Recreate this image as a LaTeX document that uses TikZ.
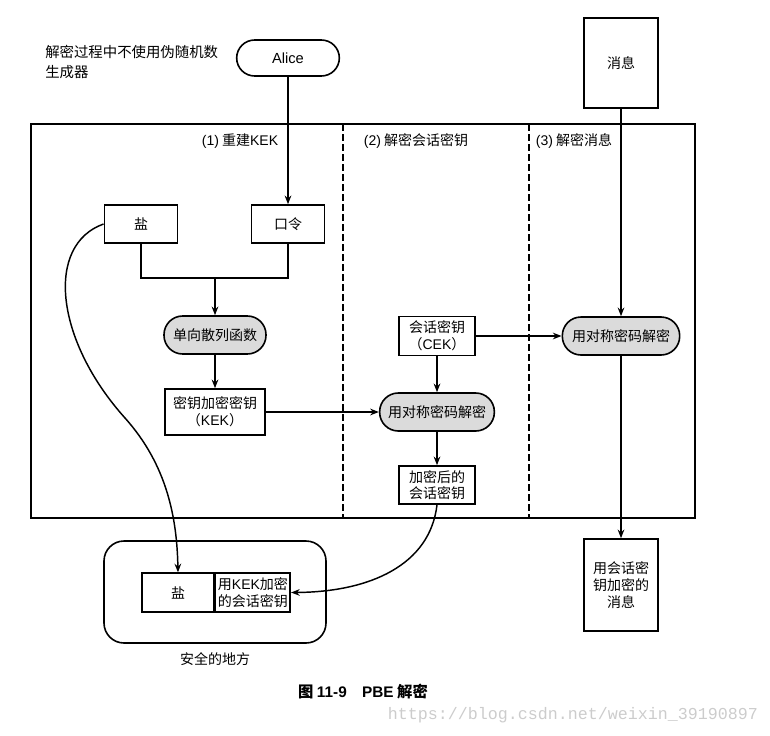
\documentclass[tikz,border=0pt]{standalone}
\usepackage{fontspec}
\setmainfont{Noto Sans CJK SC}
\newfontfamily\lat{Liberation Sans}
\newfontfamily\wmfont{Liberation Mono}
\usetikzlibrary{arrows.meta}
\begin{document}
\begin{tikzpicture}[x=0.75pt,y=-0.75pt,
  every node/.style={font=\fontsize{10.5}{12.5}\selectfont, inner sep=0pt, align=center},
  box/.style={draw, line width=1.2pt, rectangle},
  stadium/.style={draw, line width=1.2pt, rectangle, rounded corners=14pt, fill=gray!28},
  con/.style={line width=1.1pt},
  arr/.style={con, -{Stealth[length=6.5pt,width=5pt]}},
  divider/.style={line width=1.2pt, dash pattern=on 5pt off 2.5pt}]
\useasboundingbox (0,0) rectangle (770,735);

% frame and lanes
\draw[line width=1.2pt] (31,124) rectangle (695,518);
\draw[divider] (343,124) -- (343,518);
\draw[divider] (529,124) -- (529,518);
\node (l1) at (240,141) {{\lat (1)} 重建{\lat KEK}};
\node (l2) at (416,141) {{\lat (2)} 解密会话密钥};
\node (l3) at (574,141) {{\lat (3)} 解密消息};

% top
\node[anchor=west, font=\fontsize{10.8}{15}\selectfont, align=left] (note) at (45,62) {解密过程中不使用伪随机数\\生成器};
\node[draw, line width=1.2pt, rounded corners=13.5pt, minimum width=77pt, minimum height=27pt, font=\lat\fontsize{11}{13}\selectfont] (alice) at (288,58) {Alice};
\node[box, minimum width=55.5pt, minimum height=67.5pt] (msg) at (621,63) {消息};

% lane 1
\node[box, minimum width=55pt, minimum height=28.5pt] (salt) at (141,224) {盐};
\node[box, minimum width=55pt, minimum height=28.5pt] (pw) at (288,224) {口令};
\coordinate (j) at (215,278);
\node[stadium, minimum width=76.5pt, minimum height=28.5pt] (hash) at (215,335) {单向散列函数};
\node[box, minimum width=75pt, minimum height=34.5pt] (kek) at (215,412) {密钥加密密钥\\（{\lat KEK}）};

% lane 2
\node[box, minimum width=57pt, minimum height=29pt] (cek) at (437,336) {会话密钥\\（{\lat CEK}）};
\node[stadium, minimum width=86pt, minimum height=28.5pt] (dec1) at (437,412) {用对称密码解密};
\node[box, minimum width=57pt, minimum height=28.5pt] (enc) at (437,485) {加密后的\\会话密钥};

% lane 3
\node[stadium, minimum width=88pt, minimum height=28.5pt] (dec2) at (621,336) {用对称密码解密};
\node[box, minimum width=55.5pt, minimum height=69pt] (emsg) at (621,585) {用会话密\\钥加密的\\消息};

% safe place
\draw[line width=1.2pt, rounded corners=15pt] (104,541) rectangle (326,643);
\node[box, minimum width=54pt, minimum height=29pt] (sc1) at (178,592.5) {盐};
\node[box, minimum width=56pt, minimum height=29pt, anchor=west] (sc2) at (sc1.east) {用{\lat KEK}加密\\的会话密钥};
\node (safe) at (215,659) {安全的地方};

% connectors
\draw[arr] (alice.south) -- (pw.north);
\draw[con] (salt.south) |- (j) -| (pw.south);
\draw[arr] (j) -- (hash.north);
\draw[arr] (hash) -- (kek);
\draw[arr] (kek.east) -- (dec1.west);
\draw[arr] (cek) -- (dec1);
\draw[arr] (cek.east) -- (dec2.west);
\draw[arr] (msg.south) -- (dec2.north);
\draw[arr] (dec1) -- (enc);
\draw[arr] (dec2) -- (emsg);
\draw[arr] (salt.west) .. controls (45,245) and (55,340) .. (125,418) .. controls (168,466) and (177,520) .. (sc1.north);
\draw[arr] (enc.south) .. controls (430,565) and (370,592) .. (sc2.east);

% caption and watermark
\node[font=\bfseries\fontsize{11.5}{13}\selectfont] (cap) at (363,692) {图 {\lat 11-9}\quad {\lat PBE} 解密};
\node[font=\wmfont\fontsize{12.5}{14}\selectfont, text=gray!40] (wm) at (573,715) {https://blog.csdn.net/weixin\_39190897};
\end{tikzpicture}
\end{document}
